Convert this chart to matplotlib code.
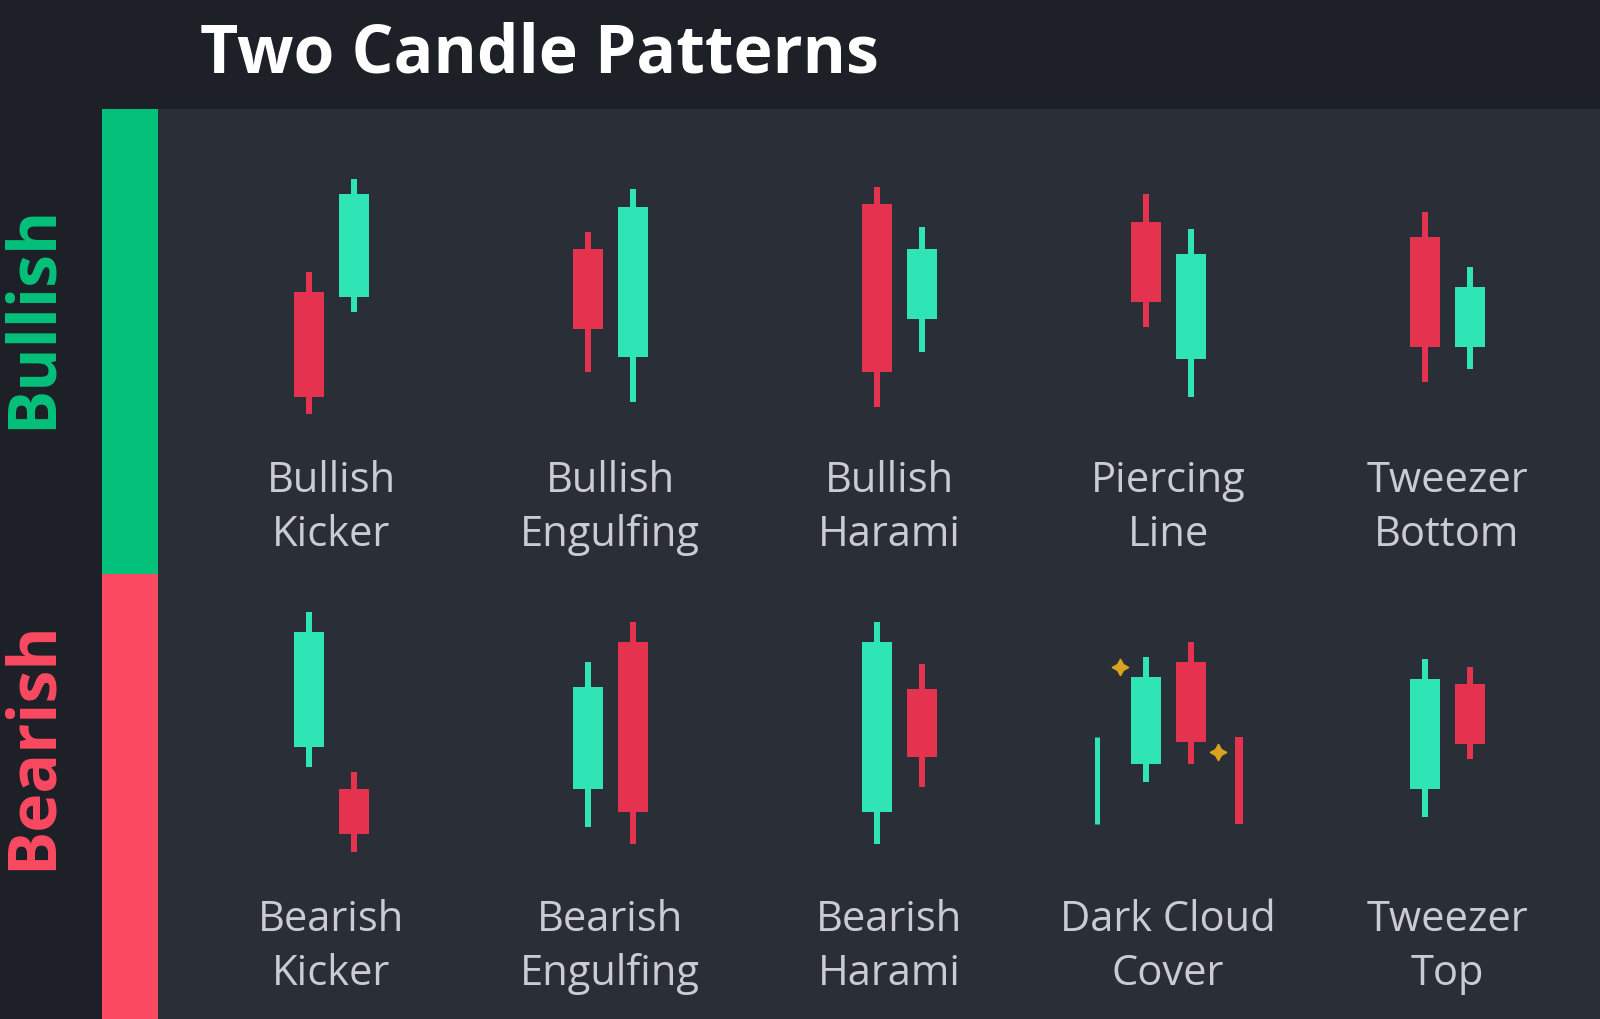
import matplotlib as mpl
from matplotlib import pyplot as plt
from matplotlib.patches import Rectangle

# candle data, one (open, high, low, close) per candle, price in 0-100 units
bull_names = ['Bullish\nKicker', 'Bullish\nEngulfing', 'Bullish\nHarami', 'Piercing\nLine', 'Tweezer\nBottom']
bull_first = [(51, 59, 2, 9), (68, 75, 19, 36), (86, 93, 5, 19), (79, 90, 37, 47), (73, 83, 15, 29)]
bull_second = [(49, 96, 43, 90), (25, 92, 7, 85), (40, 77, 27, 68), (24, 76, 9, 66), (29, 61, 20, 53)]

bear_names = ['Bearish\nKicker', 'Bearish\nEngulfing', 'Bearish\nHarami', 'Dark Cloud\nCover', 'Tweezer\nTop']
bear_first = [(45, 99, 37, 91), (28, 79, 13, 69), (19, 95, 6, 87), (38, 81, 31, 73), (28, 80, 17, 72)]
bear_second = [(28, 35, 3, 10), (87, 95, 6, 19), (68, 78, 29, 41), (79, 87, 38, 47), (70, 77, 40, 46)]

# dark cloud cover: trend lines either side and gap markers
dc_lines = [(14, 49), (14, 49)]
dc_sparks = [77, 43]

UP = '#30e5b5'
DOWN = '#e5334f'
BG = '#1e2028'
PANEL = '#2a2e36'
BAR_G = '#03c17a'
BAR_R = '#fb4a61'
TXT = '#c9ccd1'

SLOT = 279.0  # px between patterns
X0 = 331.0    # px of first pattern
BODY_W = 30 / SLOT
WICK_W = 6 / SLOT
OFF = 22.5 / SLOT
nudge = [0, 0, 0.037, 0, 0]


def candle(ax, x, ohlc):
    o, h, l, c = ohlc
    col = UP if c >= o else DOWN
    ax.bar(x, h - l, bottom=l, width=WICK_W, color=col, linewidth=0)
    ax.bar(x, abs(c - o), bottom=min(o, c), width=BODY_W, color=col, linewidth=0)


def row_axes(top_px, bot_px):
    ax = fig.add_axes([158 / 1600, (1020 - bot_px) / 1020, 1442 / 1600, (bot_px - top_px) / 1020])
    ax.set_xlim((158 - X0) / SLOT, (1600 - X0) / SLOT)
    ax.set_ylim(0, 100)
    ax.axis('off')
    return ax


fig = plt.figure(figsize=(16, 10.2), dpi=100)
fig.patch.set_facecolor(BG)

bg = fig.add_axes([0, 0, 1, 1])
bg.set_xlim(0, 1600)
bg.set_ylim(1020, 0)
bg.axis('off')
bg.add_patch(Rectangle((158, 110), 1442, 910, color=PANEL, linewidth=0))
bg.add_patch(Rectangle((102, 110), 56, 465, color=BAR_G, linewidth=0))
bg.add_patch(Rectangle((102, 575), 56, 445, color=BAR_R, linewidth=0))

bg.text(200, 55, 'Two Candle Patterns', color='white', fontsize=47.5, fontweight='bold',
        family='Open Sans', va='center', ha='left')
bg.text(33, 317, 'Bullish', color=BAR_G, fontsize=47.5, fontweight='bold', family='Open Sans',
        rotation=90, va='center', ha='center')
bg.text(33, 745, 'Bearish', color=BAR_R, fontsize=47.5, fontweight='bold', family='Open Sans',
        rotation=90, va='center', ha='center')

for i in range(5):
    bg.text(X0 + SLOT * i, 508, bull_names[i], color=TXT, fontsize=30, family='Open Sans',
            ha='center', va='center', linespacing=1.37)
    bg.text(X0 + SLOT * i, 947, bear_names[i], color=TXT, fontsize=30, family='Open Sans',
            ha='center', va='center', linespacing=1.37)

ax1 = row_axes(170, 420)
for i in range(5):
    candle(ax1, i + nudge[i] - OFF, bull_first[i])
    candle(ax1, i + nudge[i] + OFF, bull_second[i])

ax2 = row_axes(610, 860)
for i in range(5):
    candle(ax2, i + nudge[i] - OFF, bear_first[i])
    candle(ax2, i + nudge[i] + OFF, bear_second[i])

ax2.vlines(3 - 0.254, dc_lines[0][0], dc_lines[0][1], color=UP, linewidth=3.6)
ax2.vlines(3 + 0.254, dc_lines[1][0], dc_lines[1][1], color=DOWN, linewidth=5.8)
ax2.plot([3 - 0.172], [dc_sparks[0]], marker=(4, 1, 0), markersize=12, color='#d8a31f', linestyle='none')
ax2.plot([3 + 0.179], [dc_sparks[1]], marker=(4, 1, 0), markersize=12, color='#d8a31f', linestyle='none')

plt.savefig('out.png', dpi=100, facecolor=BG)
